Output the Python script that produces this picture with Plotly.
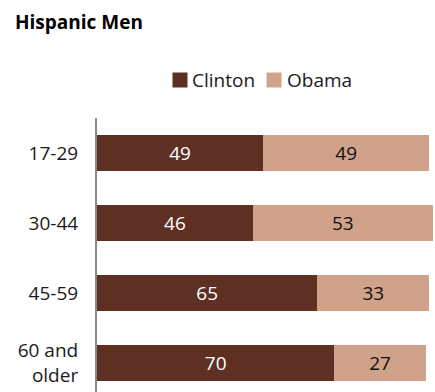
import plotly.graph_objects as go

categories = ["17-29", "30-44", "45-59", "60 and<br>older"]
clinton = [49, 46, 65, 70]
obama = [49, 53, 33, 27]
series_names = ["Clinton", "Obama"]

CLINTON_COLOR = "#5E3024"
OBAMA_COLOR = "#D0A289"
FONT = "Open Sans"
W, H = 435, 392
ML, MT = 97, 118

fig = go.Figure()
fig.add_trace(go.Bar(
    y=categories, x=clinton, name=series_names[0], orientation="h",
    marker=dict(color=CLINTON_COLOR, line=dict(width=0)),
    text=clinton, textposition="inside", insidetextanchor="middle",
    textfont=dict(color="white", size=19, family=FONT),
))
fig.add_trace(go.Bar(
    y=categories, x=obama, name=series_names[1], orientation="h",
    marker=dict(color=OBAMA_COLOR, line=dict(width=0)),
    text=obama, textposition="inside", insidetextanchor="middle",
    textfont=dict(color="#111111", size=19, family=FONT),
))

def px_x(p):
    return (p - ML) / (W - ML)

def px_y(p):
    return (H - p) / (H - MT)

# custom legend (swatch + label)
legend_items = [(series_names[0], CLINTON_COLOR, 180, 192), (series_names[1], OBAMA_COLOR, 274, 287)]
annotations = []
for name, color, sx, tx in legend_items:
    annotations.append(dict(xref="paper", yref="paper", x=px_x(sx), y=px_y(80),
                            xanchor="center", yanchor="middle", text=" ", showarrow=False,
                            width=14, height=14, bgcolor=color, borderpad=0,
                            font=dict(size=4)))
    annotations.append(dict(xref="paper", yref="paper", x=px_x(tx), y=px_y(80),
                            xanchor="left", yanchor="middle", text=name, showarrow=False,
                            borderpad=0, xshift=-1,
                            font=dict(size=19, family=FONT, color="#1a1a1a")))

fig.update_layout(
    width=W, height=H,
    barmode="stack", bargap=0.48,
    margin=dict(l=ML, r=0, t=MT, b=0),
    paper_bgcolor="white", plot_bgcolor="white",
    font=dict(family=FONT, size=19, color="#1a1a1a"),
    title=dict(text="<b>Hispanic Men</b>", x=15/W, xanchor="left", xref="container",
               y=1-22/H, yanchor="middle", yref="container",
               font=dict(size=19, family=FONT, color="#000000")),
    showlegend=False,
    annotations=annotations,
    uniformtext=dict(minsize=19, mode="show"),
)
fig.update_xaxes(range=[0, 99.7], visible=False, fixedrange=True)
fig.update_yaxes(range=[3.414, -0.5], showline=True, linecolor="#888888", linewidth=2,
                 showgrid=False, zeroline=False, ticks="", ticklabelstandoff=13,
                 tickfont=dict(size=19, family=FONT, color="#1a1a1a"))

fig.write_html("out.html")
